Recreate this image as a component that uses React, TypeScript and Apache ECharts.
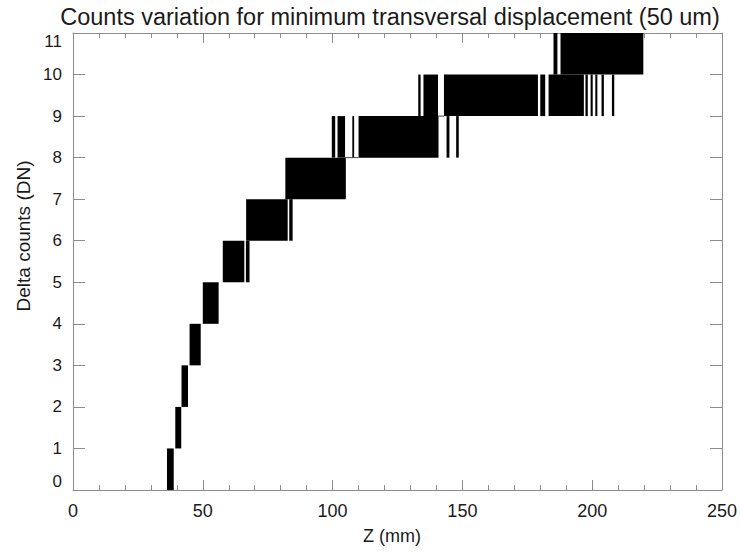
import React, { useEffect, useRef } from "react";
import * as echarts from "echarts";

// Chart texts
const titleText = "Counts variation for minimum transversal displacement (50 um)";
const xAxisName = "Z (mm)";
const yAxisName = "Delta counts (DN)";

// Axis ranges
const xMin = 0;
const xMax = 250;
const xStep = 50;
const yMin = 0;
const yMax = 11;
const yStep = 1;

// Dense oscillation bands: [zStart, zEnd, lowerLevel] (signal toggles between level and level+1)
const band0 = [[36.2, 38.8, 0]];
const band1 = [[39.4, 41.7, 1]];
const band2 = [[41.8, 44.3, 2]];
const band3 = [[44.9, 49.2, 3]];
const band4 = [[50.0, 56.1, 4]];
const band5 = [[57.7, 66.0, 5], [66.6, 68.0, 5]];
const band6 = [[66.7, 82.7, 6], [83.3, 84.6, 6]];
const band7 = [[81.8, 105.1, 7]];
const band8 = [
  [99.7, 101.0, 8], [101.9, 104.8, 8], [107.6, 108.3, 8],
  [110.0, 140.8, 8], [143.9, 145.0, 8], [147.6, 148.6, 8],
];
const band9 = [
  [133.0, 133.9, 9], [135.0, 140.6, 9], [142.9, 179.1, 9], [180.0, 181.9, 9],
  [183.2, 196.8, 9], [197.4, 198.3, 9], [199.4, 200.2, 9], [201.2, 202.0, 9],
  [203.6, 204.5, 9], [207.6, 208.5, 9],
];
const band10 = [[185.1, 186.6, 10], [187.8, 219.7, 10]];

// Flat stretches of the trace between bands: [zStart, zEnd, level]
const flatSegments = [
  [104.8, 110.0, 8],
  [140.6, 142.9, 9],
];

const allBands = [
  ...band0, ...band1, ...band2, ...band3, ...band4, ...band5,
  ...band6, ...band7, ...band8, ...band9, ...band10,
];

const FONT = "'Liberation Sans', Arial, Helvetica, sans-serif";
const AXIS_COLOR = "#8c8c8c";
const TEXT_COLOR = "#1a1a1a";

export default function App() {
  const ref = useRef<HTMLDivElement>(null);

  useEffect(() => {
    if (!ref.current) return;
    const chart = echarts.init(ref.current, null, { renderer: "svg" });

    const baseX = {
      type: "value",
      min: xMin,
      max: xMax,
      interval: xStep,
      axisLine: { show: true, onZero: false, lineStyle: { color: AXIS_COLOR, width: 1 } },
      axisTick: { show: true, inside: true, length: 10, lineStyle: { color: AXIS_COLOR } },
      minorTick: { show: true, splitNumber: 5, length: 5, lineStyle: { color: AXIS_COLOR } },
      splitLine: { show: false },
      minorSplitLine: { show: false },
    };
    const baseY = {
      type: "value",
      min: yMin,
      max: yMax,
      interval: yStep,
      axisLine: { show: true, onZero: false, lineStyle: { color: AXIS_COLOR, width: 1 } },
      axisTick: { show: true, inside: true, length: 12, lineStyle: { color: AXIS_COLOR } },
      splitLine: { show: false },
    };

    chart.setOption({
      animation: false,
      backgroundColor: "#ffffff",
      textStyle: { fontFamily: FONT },
      title: {
        text: titleText,
        left: 385,
        top: 0,
        textAlign: "center",
        textStyle: { fontFamily: FONT, fontSize: 23.5, fontWeight: "normal", color: TEXT_COLOR },
      },
      grid: { left: 73, right: 16, top: 33, bottom: 62, containLabel: false },
      xAxis: [
        {
          ...baseX,
          position: "bottom",
          axisLabel: { show: true, margin: 12, fontSize: 18, color: TEXT_COLOR, fontFamily: FONT },
        },
        { ...baseX, position: "top", axisLabel: { show: false } },
      ],
      yAxis: [
        {
          ...baseY,
          position: "left",
          axisLabel: {
            show: true,
            margin: 11,
            fontSize: 17,
            color: TEXT_COLOR,
            fontFamily: FONT,
            verticalAlignMinLabel: "bottom",
            verticalAlignMaxLabel: "top",
          },
        },
        { ...baseY, position: "right", axisLabel: { show: false } },
      ],
      graphic: [
        {
          type: "text",
          x: 23,
          y: 236,
          rotation: Math.PI / 2,
          style: {
            text: yAxisName,
            fontFamily: FONT,
            fontSize: 19,
            fill: TEXT_COLOR,
            align: "center",
            verticalAlign: "middle",
          },
        },
        {
          type: "text",
          x: 392,
          y: 536,
          style: {
            text: xAxisName,
            fontFamily: FONT,
            fontSize: 18,
            fill: TEXT_COLOR,
            align: "center",
            verticalAlign: "middle",
          },
        },
      ],
      series: [
        {
          type: "custom",
          xAxisIndex: 0,
          yAxisIndex: 0,
          clip: true,
          encode: { x: [0, 1], y: 2 },
          data: allBands,
          renderItem: (params: any, api: any) => {
            const z0 = api.value(0);
            const z1 = api.value(1);
            const lv = api.value(2);
            const p0 = api.coord([z0, lv + 1]);
            const p1 = api.coord([z1, lv]);
            return {
              type: "rect",
              shape: {
                x: p0[0],
                y: p0[1],
                width: Math.max(p1[0] - p0[0], 1),
                height: p1[1] - p0[1],
              },
              style: { fill: "#000000" },
            };
          },
        },
        {
          type: "custom",
          xAxisIndex: 0,
          yAxisIndex: 0,
          clip: true,
          encode: { x: [0, 1], y: 2 },
          data: flatSegments,
          renderItem: (params: any, api: any) => {
            const p0 = api.coord([api.value(0), api.value(2)]);
            const p1 = api.coord([api.value(1), api.value(2)]);
            return {
              type: "line",
              shape: { x1: p0[0], y1: p0[1], x2: p1[0], y2: p1[1] },
              style: { stroke: "#444444", lineWidth: 1 },
            };
          },
        },
      ],
    });

    return () => {
      chart.dispose();
    };
  }, []);

  return (
    <div
      ref={ref}
      style={{ position: "absolute", left: 0, top: 0, width: 740, height: 552 }}
    />
  );
}
